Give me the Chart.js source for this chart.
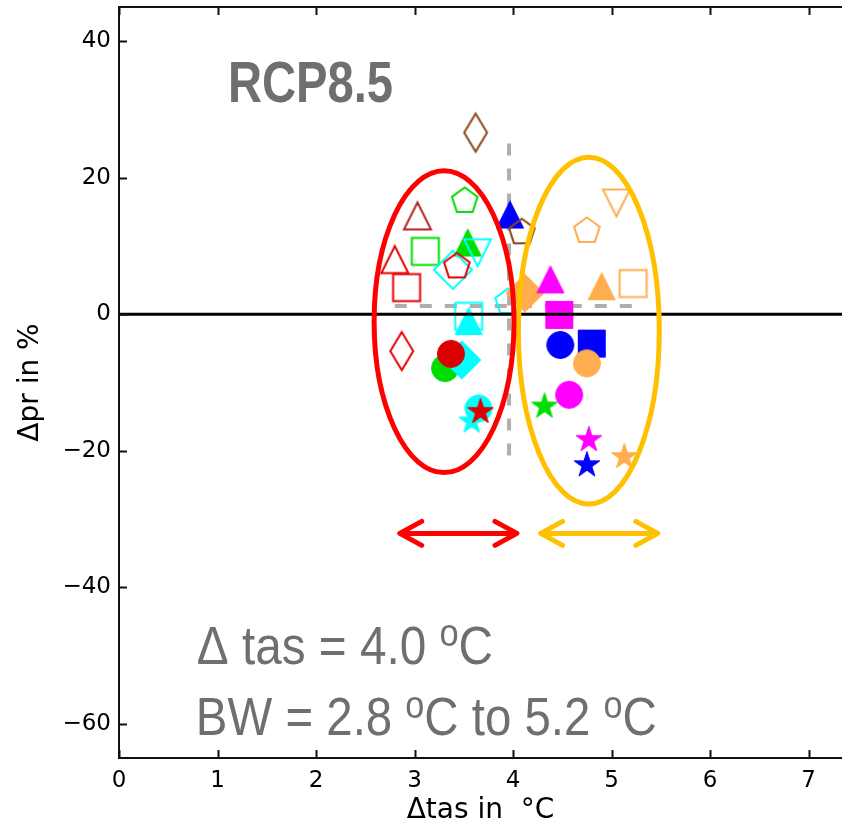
<!DOCTYPE html>
<html>
<head>
<meta charset="utf-8">
<script src="https://cdn.jsdelivr.net/npm/chart.js@4.4.1/dist/chart.umd.min.js"></script>
<style>
  html, body { margin: 0; padding: 0; background: #ffffff; }
  canvas { display: block; }
</style>
</head>
<body>
<canvas id="chart" width="842" height="831"></canvas>
<script>
// Change in near-surface temperature (tas, °C) and precipitation (pr, %) per simulation
const tasChange = [3.62, 3.51, 3.03, 3.11, 3.54, 3.64, 2.80, 3.39, 3.43, 2.92, 2.87, 3.55, 3.55,
                   3.31, 3.48, 3.37, 3.58, 3.65, 3.67, 3.97, 4.09, 3.95, 4.12, 4.38, 4.90, 5.22,
                   4.75, 5.05, 4.47, 4.48, 4.80, 4.75, 4.57, 4.32, 4.77, 4.75, 5.13];
const prChange  = [26.6, 16.6, 14.4, 9.2, 10.5, 9.0, 8.0, 6.5, 7.0, 3.9, -5.4, -0.3, -1.0,
                   -7.9, -6.7, -5.8, -15.7, -13.8, -14.3, 14.6, 12.0, 1.8, 3.1, 5.1, 4.1, 4.5,
                   12.2, 16.3, -0.1, -4.5, -4.3, -7.2, -11.8, -13.5, -18.4, -22.1, -20.9];

// Axis ticks
const xTickValues = [0, 1, 2, 3, 4, 5, 6, 7];
const yTickValues = [40, 20, 0, -20, -40, -60];

// Ensemble summary
const scenarioName = 'RCP8.5';
const meanTas = 4.0;
const bandLow = 2.8;
const bandHigh = 5.2;

// Marker style per simulation (shape, colour, filled)
const markerShape = ['d','p','^','s','^','v','^','D','p','s','d','s','^',
                     'o','D','o','*','o','*','^','p','p','D','^','^','s',
                     'p','v','s','o','s','o','o','*','*','*','*'];
const C = {
  brown: '#8b4513', firebrick: '#b22222', red: '#e60000', darkred: '#dd0000',
  green: '#00dd00', cyan: '#00ffff', blue: '#0000ff', magenta: '#ff00ff', orange: '#ffad4f'
};
const markerColor = [C.brown, C.green, C.firebrick, C.green, C.green, C.cyan, C.red, C.cyan, C.red, C.red, C.red, C.cyan, C.cyan,
                     C.green, C.cyan, C.darkred, C.cyan, C.cyan, C.darkred, C.blue, C.brown, C.cyan, C.orange, C.magenta, C.orange, C.orange,
                     C.orange, C.orange, C.magenta, C.blue, C.blue, C.orange, C.magenta, C.green, C.magenta, C.blue, C.orange];
const markerFilled = [false, false, false, false, true, false, false, false, false, false, false, false, true,
                      true, true, true, true, true, true, true, false, false, true, true, true, false,
                      false, false, true, true, true, true, true, true, true, true, true];

const MARKER_SIZE = 27;

function shapePath(g, shape, h) {
  const poly = pts => { g.moveTo(pts[0][0], pts[0][1]); for (let i = 1; i < pts.length; i++) g.lineTo(pts[i][0], pts[i][1]); g.closePath(); };
  const d = h * Math.SQRT2;
  switch (shape) {
    case 'o': g.arc(0, 0, h, 0, Math.PI * 2); break;
    case 's': poly([[-h, -h], [h, -h], [h, h], [-h, h]]); break;
    case '^': poly([[0, -h], [h, h], [-h, h]]); break;
    case 'v': poly([[0, h], [h, -h], [-h, -h]]); break;
    case 'D': poly([[0, -d], [d, 0], [0, d], [-d, 0]]); break;
    case 'd': poly([[0, -d], [0.6 * d, 0], [0, d], [-0.6 * d, 0]]); break;
    case 'p': {
      const p = [];
      for (let k = 0; k < 5; k++) { const a = -Math.PI / 2 + k * 2 * Math.PI / 5; p.push([h * Math.cos(a), h * Math.sin(a)]); }
      poly(p); break;
    }
    case '*': {
      const p = [];
      for (let k = 0; k < 10; k++) {
        const r = k % 2 === 0 ? h : h * 0.381966;
        const a = -Math.PI / 2 + k * Math.PI / 5;
        p.push([r * Math.cos(a), r * Math.sin(a)]);
      }
      poly(p); break;
    }
  }
}

function markerCanvas(shape, color, filled) {
  const h = MARKER_SIZE / 2;
  const size = 48;
  const c = document.createElement('canvas');
  c.width = size; c.height = size;
  const g = c.getContext('2d');
  g.translate(size / 2, size / 2);
  g.beginPath();
  shapePath(g, shape, h);
  if (filled) { g.fillStyle = color; g.fill(); }
  g.lineWidth = filled ? 1 : 2;
  g.strokeStyle = color;
  g.lineJoin = 'miter';
  g.stroke();
  return c;
}

const pointImages = markerShape.map((s, i) => markerCanvas(s, markerColor[i], markerFilled[i]));
const points = tasChange.map((t, i) => ({ x: t, y: prChange[i] }));

const GRAY_TEXT = '#6f6f6f';

function drawRuns(ctx, runs, xLeft, xRight, baseline, size, weight) {
  const fontFor = r => `${weight} ${r.sup ? size * 0.72 : size}px "Liberation Sans", Arial, sans-serif`;
  let natural = 0;
  runs.forEach(r => { ctx.font = fontFor(r); natural += ctx.measureText(r.t).width; });
  const sx = (xRight - xLeft) / natural;
  ctx.save();
  ctx.translate(xLeft, baseline);
  ctx.scale(sx, 1);
  ctx.fillStyle = GRAY_TEXT;
  ctx.textBaseline = 'alphabetic';
  ctx.textAlign = 'left';
  let cx = 0;
  runs.forEach(r => {
    ctx.font = fontFor(r);
    ctx.fillText(r.t, cx, r.sup ? -size * 0.33 : 0);
    cx += ctx.measureText(r.t).width;
  });
  ctx.restore();
}

function arrowH(ctx, x1, x2, y, color) {
  const hx = 23, hy = 12;
  ctx.save();
  ctx.strokeStyle = color;
  ctx.lineWidth = 5;
  ctx.lineCap = 'round';
  ctx.lineJoin = 'round';
  ctx.beginPath();
  ctx.moveTo(x1 + 2, y); ctx.lineTo(x2 - 2, y);
  ctx.moveTo(x1 + hx, y - hy); ctx.lineTo(x1 + 1, y); ctx.lineTo(x1 + hx, y + hy);
  ctx.moveTo(x2 - hx, y - hy); ctx.lineTo(x2 - 1, y); ctx.lineTo(x2 - hx, y + hy);
  ctx.stroke();
  ctx.restore();
}

function ellipse(ctx, xs, ys, cx, cy, rx, ry, color) {
  const px = xs.getPixelForValue(cx), py = ys.getPixelForValue(cy);
  const prx = xs.getPixelForValue(cx + rx) - px;
  const pry = py - ys.getPixelForValue(cy + ry);
  ctx.save();
  ctx.strokeStyle = color;
  ctx.lineWidth = 5;
  ctx.beginPath();
  ctx.ellipse(px, py, prx, pry, 0, 0, Math.PI * 2);
  ctx.stroke();
  ctx.restore();
}

const overlay = {
  id: 'overlay',
  beforeDatasetsDraw(chart) {
    const { ctx, scales: { x, y } } = chart;
    ctx.save();
    ctx.strokeStyle = '#aeaeae';
    ctx.lineWidth = 4;
    ctx.setLineDash([12, 13]);
    ctx.beginPath();
    ctx.moveTo(x.getPixelForValue(3.96), y.getPixelForValue(25));
    ctx.lineTo(x.getPixelForValue(3.96), y.getPixelForValue(-22));
    ctx.moveTo(x.getPixelForValue(2.8), y.getPixelForValue(1.2));
    ctx.lineTo(x.getPixelForValue(5.25), y.getPixelForValue(1.2));
    ctx.stroke();
    ctx.restore();
  },
  afterDatasetsDraw(chart) {
    const { ctx, chartArea: a, scales: { x, y } } = chart;
    // zero-change line
    ctx.save();
    ctx.strokeStyle = '#000';
    ctx.lineWidth = 3;
    ctx.beginPath();
    ctx.moveTo(a.left, y.getPixelForValue(0));
    ctx.lineTo(a.right, y.getPixelForValue(0));
    ctx.stroke();
    ctx.restore();

    // groups below and above the ensemble mean
    ellipse(ctx, x, y, 4.77, -2.4, 0.715, 25.4, '#ffc000');
    ellipse(ctx, x, y, 3.30, -1.1, 0.71, 22.1, '#ff0000');

    const ay = y.getPixelForValue(-32.1);
    arrowH(ctx, x.getPixelForValue(2.84), x.getPixelForValue(4.05), ay, '#ff0000');
    arrowH(ctx, x.getPixelForValue(4.27), x.getPixelForValue(5.48), ay, '#ffc000');

    // labels
    drawRuns(ctx, [{ t: scenarioName }], x.getPixelForValue(1.107), x.getPixelForValue(2.782), y.getPixelForValue(31.06), 57, 'bold');
    drawRuns(ctx, [{ t: `\u0394 tas = ${meanTas.toFixed(1)} ` }, { t: 'o', sup: true }, { t: 'C' }],
             x.getPixelForValue(0.79), x.getPixelForValue(3.797), y.getPixelForValue(-51.2), 53, 'normal');
    drawRuns(ctx, [{ t: `BW = ${bandLow.toFixed(1)} ` }, { t: 'o', sup: true }, { t: `C to ${bandHigh.toFixed(1)} ` }, { t: 'o', sup: true }, { t: 'C' }],
             x.getPixelForValue(0.78), x.getPixelForValue(5.46), y.getPixelForValue(-61.7), 53, 'normal');

    // frame and inward ticks
    ctx.save();
    ctx.strokeStyle = '#111';
    ctx.lineWidth = 2;
    ctx.beginPath();
    ctx.moveTo(a.left, a.top); ctx.lineTo(a.right, a.top);
    xTickValues.forEach(v => {
      const px = Math.round(x.getPixelForValue(v)) + 0.5;
      ctx.moveTo(px, a.bottom); ctx.lineTo(px, a.bottom - 8);
      ctx.moveTo(px, a.top); ctx.lineTo(px, a.top + 8);
    });
    yTickValues.forEach(v => {
      const py = Math.round(y.getPixelForValue(v)) + 0.5;
      ctx.moveTo(a.left, py); ctx.lineTo(a.left + 8, py);
    });
    ctx.stroke();
    ctx.restore();
  }
};

const tickFont = { family: '"DejaVu Sans", sans-serif', size: 23 };
const titleFont = { family: '"DejaVu Sans", sans-serif', size: 28 };

function noEdgePadding(s) {
  s.paddingTop = 0; s.paddingBottom = 0; s.paddingLeft = 0; s.paddingRight = 0;
}

new Chart(document.getElementById('chart'), {
  type: 'scatter',
  data: {
    datasets: [{
      data: points,
      pointStyle: pointImages,
      pointRadius: 14,
      pointHoverRadius: 14
    }]
  },
  options: {
    responsive: false,
    animation: false,
    devicePixelRatio: 1,
    layout: { autoPadding: false, padding: { left: 0, top: 7, right: 0, bottom: 0 } },
    plugins: { legend: { display: false }, tooltip: { enabled: false } },
    scales: {
      x: {
        type: 'linear',
        min: 0, max: 7.34,
        afterBuildTicks: s => { s.ticks = xTickValues.map(v => ({ value: v })); },
        afterFit: s => { s.height = 73; noEdgePadding(s); },
        grid: { display: false, drawTicks: false },
        border: { display: true, color: '#111', width: 2 },
        ticks: { color: '#000', font: tickFont, padding: 9, maxRotation: 0, autoSkip: false,
                 callback: v => String(v) },
        title: { display: true, text: '\u0394tas in  \u00b0C', color: '#000', font: titleFont, padding: { top: 0, bottom: 3 } }
      },
      y: {
        type: 'linear',
        min: -65, max: 45,
        afterBuildTicks: s => { s.ticks = yTickValues.map(v => ({ value: v })); },
        afterFit: s => { s.width = 119; noEdgePadding(s); },
        grid: { display: false, drawTicks: false },
        border: { display: true, color: '#111', width: 2 },
        ticks: { color: '#000', font: tickFont, padding: 8, autoSkip: false,
                 callback: v => String(v).replace('-', '\u2212') },
        title: { display: true, text: '\u0394pr in %', color: '#000', font: titleFont, padding: { top: 14, bottom: 0 } }
      }
    }
  },
  plugins: [overlay]
});
</script>
</body>
</html>
